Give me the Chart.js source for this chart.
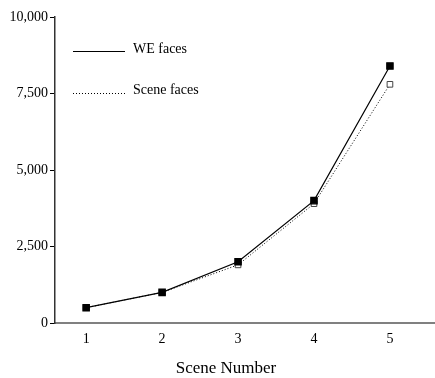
<!DOCTYPE html>
<html>
<head>
<meta charset="utf-8">
<script src="https://cdn.jsdelivr.net/npm/chart.js@4"></script>
<style>
  html, body { margin: 0; padding: 0; background: #fff; }
  #wrap { width: 435px; height: 378px; position: relative; }
</style>
</head>
<body>
<div id="wrap"><canvas id="chart" width="435" height="378"></canvas></div>
<script>
const sceneNumbers = [1, 2, 3, 4, 5]
const weFaces = [500, 1000, 2000, 4000, 8400]
const sceneFaces = [500, 1000, 1900, 3900, 7800]
const yTicks = [0, 2500, 5000, 7500, 10000]
const xTitle = 'Scene Number'

const serif = '"Liberation Serif", "Times New Roman", serif'

// legend drawn inside the plot, top-left, and the x title (sits left of centre in the original)
const innerLegend = {
    id: 'innerLegend',
    afterDraw(chart) {
        const ctx = chart.ctx
        ctx.save()
        ctx.font = '14px ' + serif
        ctx.fillStyle = '#000'
        ctx.textBaseline = 'middle'
        ctx.strokeStyle = '#000'
        ctx.lineWidth = 1

        ctx.beginPath()
        ctx.moveTo(73, 51.5)
        ctx.lineTo(125, 51.5)
        ctx.stroke()
        ctx.fillText('WE faces', 133, 49)

        ctx.setLineDash([1, 2])
        ctx.beginPath()
        ctx.moveTo(73, 93.5)
        ctx.lineTo(125, 93.5)
        ctx.stroke()
        ctx.setLineDash([])
        ctx.fillText('Scene faces', 133, 90)

        ctx.font = '17px ' + serif
        ctx.textAlign = 'center'
        ctx.textBaseline = 'alphabetic'
        ctx.fillText(xTitle, 226, 373)
        ctx.restore()
    }
}

const chart = new Chart(document.querySelector('#chart').getContext('2d'), {
    type: 'line',
    data: {
        datasets: [
            {
                label: 'WE faces',
                data: sceneNumbers.map((x, i) => ({ x: x, y: weFaces[i] })),
                borderColor: '#000',
                backgroundColor: '#000',
                borderWidth: 1.2,
                pointStyle: 'rect',
                pointRadius: 4.5,
                pointBackgroundColor: '#000',
                pointBorderColor: '#000',
                order: 1
            },
            {
                label: 'Scene faces',
                data: sceneNumbers.map((x, i) => ({ x: x, y: sceneFaces[i] })),
                borderColor: '#000',
                backgroundColor: '#fff',
                borderWidth: 1,
                borderDash: [1, 2],
                pointStyle: 'rect',
                pointRadius: 4,
                pointBackgroundColor: '#fff',
                pointBorderColor: '#444',
                pointBorderWidth: 1,
                order: 2
            }
        ]
    },
    options: {
        responsive: false,
        animation: false,
        layout: { autoPadding: false, padding: { top: 17, right: 1, left: 0, bottom: 0 } },
        plugins: {
            legend: { display: false },
            tooltip: { enabled: false }
        },
        scales: {
            x: {
                type: 'linear',
                min: 0.59,
                max: 5.58,
                afterBuildTicks: scale => { scale.ticks = sceneNumbers.map(v => ({ value: v })) },
                afterFit: scale => { scale.height = 55 },
                grid: { display: false, drawTicks: false },
                border: { color: '#808080', width: 2 },
                ticks: {
                    color: '#000',
                    font: { family: serif, size: 14 },
                    padding: 8,
                    callback: v => String(v)
                },
                title: { display: false }
            },
            y: {
                min: 0,
                max: 10000,
                afterBuildTicks: scale => { scale.ticks = yTicks.map(v => ({ value: v })) },
                afterFit: scale => { scale.width = 55 },
                grid: { drawOnChartArea: false, tickLength: 5, color: '#000', tickWidth: 1 },
                border: { color: '#333', width: 1.5 },
                ticks: {
                    color: '#000',
                    font: { family: serif, size: 14 },
                    padding: 2,
                    callback: v => v.toLocaleString('en-US')
                }
            }
        }
    },
    plugins: [innerLegend]
})
</script>
</body>
</html>
